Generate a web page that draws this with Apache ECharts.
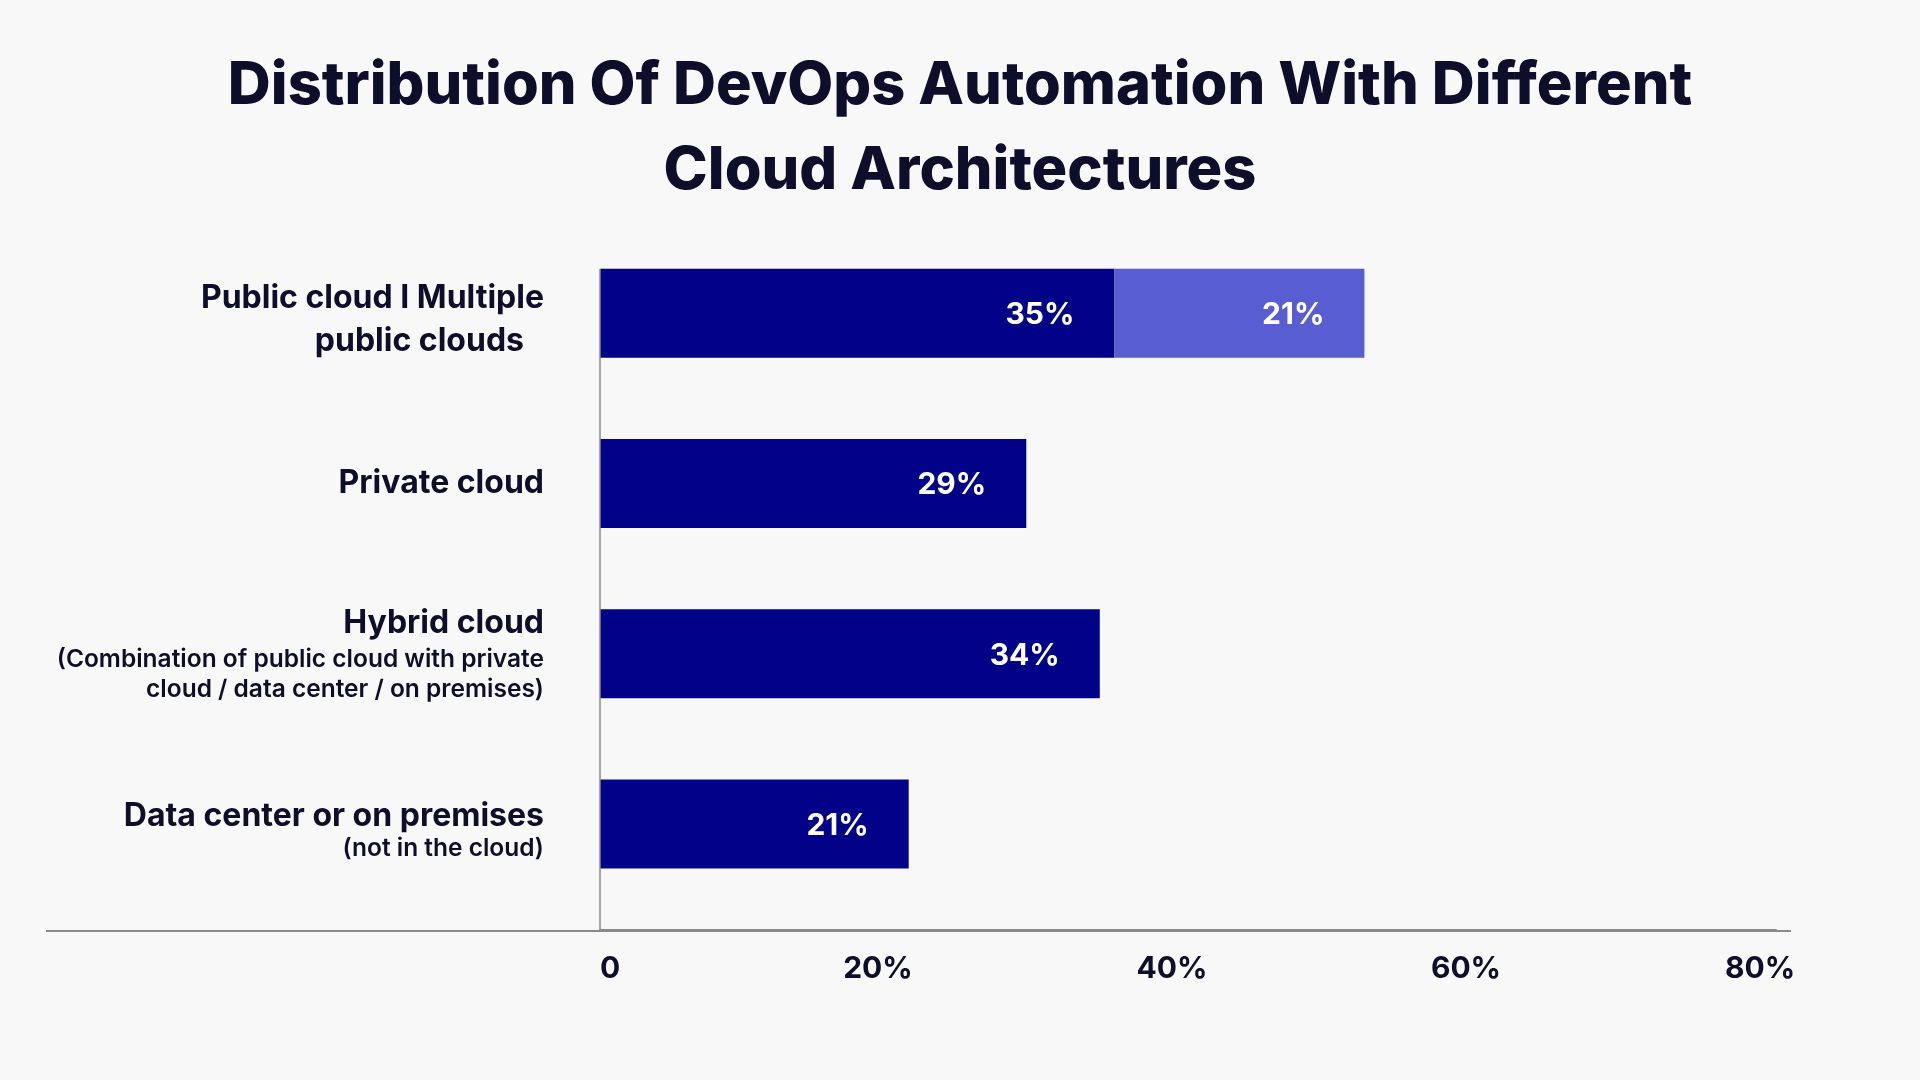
<!DOCTYPE html>
<html>
<head>
<meta charset="utf-8">
<script src="https://cdn.jsdelivr.net/npm/echarts@6/dist/echarts.min.js"></script>
<style>
html,body{margin:0;padding:0;background:#f8f8f8;}
#chart{width:1920px;height:1080px;}
</style>
</head>
<body>
<div id="chart"></div>
<script>
const titleText = 'Distribution Of DevOps Automation With Different\nCloud Architectures';
const categories = [
  'Public cloud I Multiple\npublic clouds',
  'Private cloud',
  'Hybrid cloud\n(Combination of public cloud with private\ncloud / data center / on premises)',
  'Data center or on premises\n(not in the cloud)'
];
const primaryValues = [35, 29, 34, 21];
const primaryLabels = ['35%', '29%', '34%', '21%'];
const multiCloudValues = [17, null, null, null];
const multiCloudLabels = ['21%', '', '', ''];
const xTicks = [0, 20, 40, 60, 80];

const FONT = 'Inter, "Noto Sans", sans-serif';
const INK = '#0e0e2a';
const chart = echarts.init(document.getElementById('chart'));

function mainStyle(lh, extra) {
  return Object.assign({ fontFamily: FONT, fontSize: 32, fontWeight: 700, color: INK, lineHeight: lh, align: 'right' }, extra || {});
}
function subStyle(lh) {
  return { fontFamily: FONT, fontSize: 24.5, fontWeight: 600, color: INK, lineHeight: lh, align: 'right' };
}
// per-category line styles (index_line)
const labelRich = {
  s0_0: mainStyle(57),
  s0_1: mainStyle(29, { padding: [0, 20, 0, 0] }),
  s1_0: mainStyle(42),
  s2_0: mainStyle(42),
  s2_1: subStyle(30),
  s2_2: subStyle(30),
  s3_0: mainStyle(50),
  s3_1: subStyle(16)
};

chart.setOption({
  backgroundColor: '#f8f8f8',
  animation: false,
  title: {
    text: titleText,
    left: 'center',
    top: 39,
    textStyle: {
      fontFamily: FONT,
      fontSize: 59.5,
      fontWeight: 800,
      color: INK,
      lineHeight: 85
    }
  },
  grid: { left: 600, right: 144, top: 228, bottom: 171, containLabel: false },
  xAxis: {
    type: 'value',
    min: 0,
    max: 80,
    interval: 20,
    offset: 21,
    axisLine: { show: true, lineStyle: { color: '#8a8a8a', width: 2 } },
    axisTick: { show: false },
    splitLine: { show: false },
    axisLabel: {
      margin: 24,
      fontFamily: FONT,
      fontSize: 30,
      fontWeight: 700,
      color: INK,
      padding: [0, 32, 0, 0],
      alignMinLabel: 'left',
      formatter: v => (v === 0 ? '0' : v + '%')
    }
  },
  yAxis: {
    type: 'category',
    data: categories,
    inverse: true,
    axisLine: { show: false },
    axisTick: { show: false },
    axisLabel: {
      margin: 56,
      align: 'right',
      formatter: function (val, idx) {
        return val.split('\n').map((line, i) => '{s' + idx + '_' + i + '|' + line + '}').join('\n');
      },
      rich: labelRich
    }
  },
  graphic: [
    { type: 'line', shape: { x1: 46, y1: 931, x2: 1791, y2: 931 }, style: { stroke: '#8a8a8a', lineWidth: 2 }, z: 10 },
    { type: 'line', shape: { x1: 600, y1: 269, x2: 600, y2: 931 }, style: { stroke: '#8a8a8a', lineWidth: 1.5 }, z: 10 }
  ],
  series: [
    {
      name: 'Primary',
      type: 'bar',
      stack: 'total',
      barWidth: 89,
      data: primaryValues,
      itemStyle: { color: '#020288' },
      label: {
        show: true,
        position: 'insideRight',
        distance: 40,
        offset: [0, 2],
        fontFamily: FONT,
        fontSize: 30,
        fontWeight: 700,
        color: '#ffffff',
        formatter: p => primaryLabels[p.dataIndex]
      }
    },
    {
      name: 'Multiple public clouds',
      type: 'bar',
      stack: 'total',
      barWidth: 89,
      data: multiCloudValues,
      itemStyle: { color: '#595dd2' },
      label: {
        show: true,
        position: 'insideRight',
        distance: 40,
        offset: [0, 2],
        fontFamily: FONT,
        fontSize: 30,
        fontWeight: 700,
        color: '#ffffff',
        formatter: p => multiCloudLabels[p.dataIndex]
      }
    }
  ]
});
</script>
</body>
</html>
